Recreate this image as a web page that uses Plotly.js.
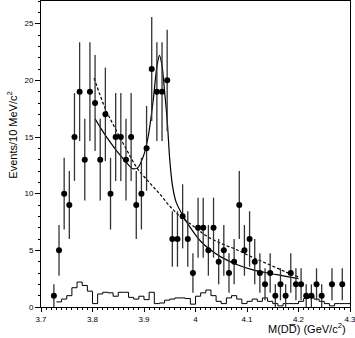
<!DOCTYPE html>
<html>
<head>
<meta charset="utf-8">
<script src="https://cdn.plot.ly/plotly-3.0.1.min.js"></script>
<style>
  html, body { margin: 0; padding: 0; background: #fff; }
  #chart { width: 355px; height: 338px; }
</style>
</head>
<body>
<div id="chart"></div>
<script type="text/javascript">
// Data points: bin centre (GeV/c^2) and events per 10 MeV/c^2
const massBins = [3.725, 3.735, 3.745, 3.755, 3.765, 3.775, 3.785, 3.795, 3.805, 3.815,
                  3.825, 3.835, 3.845, 3.855, 3.865, 3.875, 3.885, 3.895, 3.905, 3.915,
                  3.925, 3.935, 3.945, 3.955, 3.965, 3.975, 3.985, 3.995, 4.005, 4.015,
                  4.025, 4.035, 4.045, 4.055, 4.065, 4.075, 4.085, 4.095, 4.105, 4.115,
                  4.125, 4.135, 4.145, 4.155, 4.165, 4.175, 4.185, 4.195, 4.205, 4.215,
                  4.225, 4.235, 4.245, 4.265, 4.285];
const events = [1, 5, 10, 9, 15, 19, 13, 19, 18, 13,
                17, 10, 15, 15, 13, 15, 9, 10, 14, 21,
                19, 19, 20, 6, 6, 8, 6, 3, 7, 7,
                5, 7, 4, 5, 3, 4, 9, 5, 6, 4,
                3, 2, 3, 1, 2, 1, 3, 2, 2, 1,
                1, 2, 1, 2, 2];

// Background histogram (left bin edges and contents)
const bkgEdges = [3.73, 3.74, 3.75, 3.76, 3.77, 3.78, 3.79, 3.80, 3.81, 3.82,
                  3.83, 3.84, 3.85, 3.86, 3.87, 3.88, 3.89, 3.90, 3.91, 3.92,
                  3.93, 3.94, 3.95, 3.96, 3.97, 3.98, 3.99, 4.00, 4.01, 4.02,
                  4.03, 4.04, 4.05, 4.06, 4.07, 4.08, 4.09, 4.10, 4.11, 4.12,
                  4.13, 4.14, 4.15, 4.16, 4.17, 4.18, 4.19, 4.20, 4.21, 4.22,
                  4.23, 4.24, 4.25, 4.26, 4.27, 4.28, 4.29];
const bkgVals = [0.45, 0.7, 1.0, 1.7, 2.2, 1.9, 1.4, 0.3, 1.15, 1.3,
                 1.25, 0.95, 1.3, 1.3, 0.85, 0.7, 0.95, 0.65, 1.3, 0.3,
                 0.35, 0.6, 0.7, 0.8, 0.8, 0.75, 0.25, 0.95, 1.25, 1.5,
                 1.0, 0.5, 0.3, 0.8, 1.0, 0.7, 0.3, 0.5, 0.7, 0.5,
                 0.8, 0.5, 0.3, 0.1, 0.3, 0.3, 0.3, 0.5, 0.75, 0.95,
                 0.7, 0.5, 0.3, 0.1, 0.3, 0.3, 0.3];
const bkgLastEdge = 4.30;

// Fit with resonance (solid)
const fitX = [3.805, 3.82, 3.835, 3.85, 3.865, 3.878, 3.888, 3.898, 3.908, 3.918,
              3.925, 3.930, 3.935, 3.940, 3.945, 3.950, 3.955, 3.962, 3.975, 3.99,
              4.01, 4.03, 4.05, 4.08, 4.11, 4.14, 4.17, 4.20];
const fitY = [16.6, 15.5, 14.5, 13.6, 12.8, 12.2, 12.3, 13.2, 15.0, 18.3,
              21.2, 22.2, 21.3, 19.0, 16.5, 13.0, 10.8, 9.3, 8.1, 7.0,
              5.8, 5.0, 4.4, 3.75, 3.3, 3.0, 2.75, 2.5];

// Background-only fit (dotted)
const bgFitX = [3.803, 3.825, 3.847, 3.866, 3.886, 3.91, 3.93, 3.95, 3.97, 4.00,
                4.02, 4.05, 4.08, 4.11, 4.15, 4.18, 4.20];
const bgFitY = [20.2, 17.5, 15.5, 13.9, 12.3, 11.0, 10.0, 8.9, 8.0, 7.0,
                6.3, 5.6, 5.05, 4.4, 3.6, 3.0, 2.65];

const histX = bkgEdges.concat([bkgLastEdge]);
const histY = bkgVals.concat([bkgVals[bkgVals.length - 1]]);

const histTrace = {
    type: 'scatter', mode: 'lines',
    x: histX, y: histY,
    line: {shape: 'hv', color: '#000', width: 1},
    hoverinfo: 'skip'
};

const bgTrace = {
    type: 'scatter', mode: 'lines',
    x: bgFitX, y: bgFitY,
    line: {shape: 'spline', color: '#000', width: 1.2, dash: '3px,2px'}
};

const fitTrace = {
    type: 'scatter', mode: 'lines',
    x: fitX, y: fitY,
    line: {shape: 'spline', smoothing: 0.8, color: '#000', width: 1.2}
};

const dataTrace = {
    type: 'scatter', mode: 'markers',
    x: massBins, y: events,
    marker: {color: '#000', size: 6},
    error_y: {
        type: 'data',
        array: events.map(n => Math.sqrt(n)),
        color: '#333',
        thickness: 1.3,
        width: 0
    }
};

const font = {family: 'Liberation Sans, Arial, sans-serif', color: '#000'};

const layout = {
    width: 355, height: 338,
    margin: {l: 41, r: 5, t: 1, b: 31},
    paper_bgcolor: '#fff', plot_bgcolor: '#fff',
    showlegend: false,
    font: font,
    xaxis: {
        range: [3.7, 4.3],
        tickvals: [3.7, 3.8, 3.9, 4, 4.1, 4.2, 4.3],
        ticktext: ['3.7', '3.8', '3.9', '4', '4.1', '4.2', '4.3'],
        ticklabeloverflow: 'allow',
        ticks: 'outside', ticklen: 4, tickcolor: '#000',
        minor: {dtick: 0.01, tick0: 3.7, ticks: 'outside', ticklen: 2, tickcolor: '#000'},
        showgrid: false, zeroline: false,
        showline: true, linecolor: '#000', linewidth: 1, mirror: true,
        tickfont: {size: 8}
    },
    yaxis: {
        range: [0, 27],
        tickvals: [0, 5, 10, 15, 20, 25],
        ticks: 'outside', ticklen: 5, tickcolor: '#000',
        minor: {dtick: 1, tick0: 0, ticks: 'outside', ticklen: 2, tickcolor: '#000'},
        showgrid: false, zeroline: false,
        showline: true, linecolor: '#000', linewidth: 1, mirror: true,
        tickfont: {size: 8}
    },
    annotations: [
        {
            xref: 'paper', yref: 'paper',
            x: -0.094, y: 0.563, xanchor: 'center', yanchor: 'middle',
            textangle: -90, showarrow: false,
            text: 'Events/10 MeV/c<sup>2</sup>',
            font: {size: 11}
        },
        {
            xref: 'paper', yref: 'paper',
            x: 0.995, y: -0.068, xanchor: 'right', yanchor: 'middle',
            showarrow: false,
            text: 'M(DD\u0305) (GeV/c<sup>2</sup>)',
            font: {size: 11}
        }
    ]
};

Plotly.newPlot('chart', [histTrace, bgTrace, fitTrace, dataTrace], layout,
               {staticPlot: true, displayModeBar: false});
</script>
</body>
</html>
